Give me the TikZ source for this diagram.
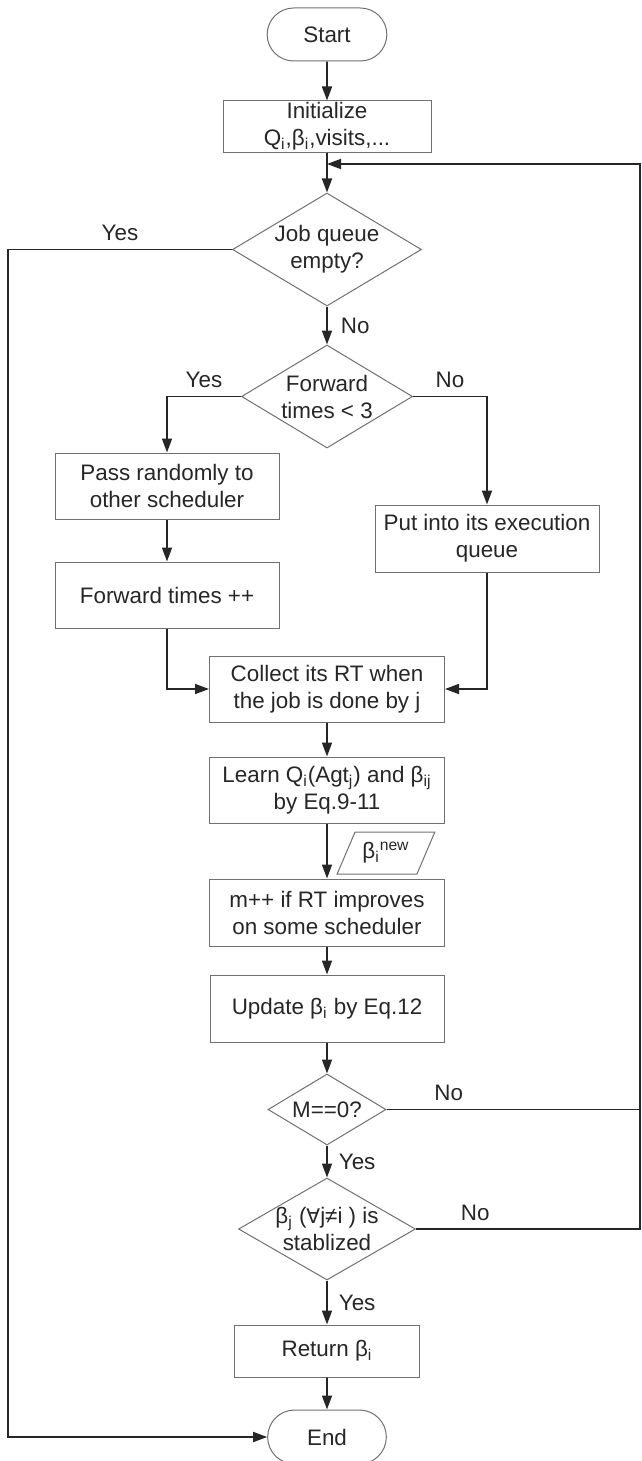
\documentclass[tikz,border=0pt]{standalone}
\usepackage{fontspec}
\setmainfont{Liberation Sans}
\newfontfamily\symfont[Scale=0.9]{DejaVu Sans}
\usetikzlibrary{shapes.geometric,shapes.misc,arrows.meta}
\definecolor{boxline}{HTML}{707070}
\definecolor{flowline}{HTML}{262626}

\begin{document}
\begin{tikzpicture}[font=\fontsize{11.2}{13.5}\selectfont, text=flowline]
    \tikzstyle{terminal} = [rounded rectangle, draw=boxline, line width=0.5pt, minimum width=66.5pt, minimum height=26.5pt]
    \tikzstyle{process} = [rectangle, draw=boxline, line width=0.5pt, align=center, inner sep=0pt]
    \tikzstyle{decision} = [diamond, draw=boxline, line width=0.5pt, align=center, inner sep=0pt, aspect=1.66]
    \tikzstyle{data} = [trapezium, trapezium left angle=63, trapezium right angle=117, trapezium stretches=true, draw=boxline, line width=0.5pt, minimum width=49pt, minimum height=21pt]
    \tikzstyle{arrow} = [draw=flowline, line width=0.85pt, -{Triangle[length=7pt,width=5pt]}]
    \tikzstyle{line} = [draw=flowline, line width=0.85pt]
    \tikzstyle{lbl} = [inner sep=0pt, anchor=base, yshift=4.5pt]
    \tikzstyle{side} = [inner sep=0pt, anchor=west]

    \useasboundingbox (0,0) rectangle (321pt,-730.5pt);

    \node[terminal] (start) at (163.5pt,-17.25pt) {Start};
    \node[process, minimum width=104pt, minimum height=25.5pt, node distance=46pt, below of=start] (init) {Initialize\\Q\textsubscript{i},β\textsubscript{i},visits,...};
    \node[decision, minimum width=94.5pt, minimum height=56.5pt, node distance=61.5pt, below of=init] (job) {Job queue\\empty?};
    \node[decision, minimum width=85.5pt, minimum height=51.5pt, node distance=73.5pt, below of=job] (fwd) {Forward\\times < 3};

    \node[process, minimum width=112pt, minimum height=33pt, node distance=44.75pt, below of=fwd, xshift=-80pt] (pass) {Pass randomly to\\other scheduler};
    \node[process, minimum width=112pt, minimum height=33pt, node distance=54.5pt, below of=pass] (ftimes) {Forward times ++};
    \node[process, minimum width=112pt, minimum height=33.5pt, node distance=71pt, below of=fwd, xshift=80pt] (put) {Put into its execution\\queue};

    \node[process, minimum width=117.5pt, minimum height=33pt, node distance=146.25pt, below of=fwd] (collect) {Collect its RT when\\the job is done by j};
    \node[process, minimum width=117.5pt, minimum height=33pt, node distance=50.5pt, below of=collect] (learn) {Learn Q\textsubscript{i}(Agt\textsubscript{j}) and β\textsubscript{ij}\\by Eq.9-11};
    \node[data, node distance=31.5pt, below of=learn, xshift=29.5pt] (betanew) {β\textsubscript{i}\textsuperscript{new}};
    \node[process, minimum width=117.5pt, minimum height=33.5pt, node distance=61.25pt, below of=learn] (mpp) {m++ if RT improves\\on some scheduler};
    \node[process, minimum width=117pt, minimum height=33.5pt, node distance=48pt, below of=mpp] (update) {Update β\textsubscript{i} by Eq.12};

    \node[decision, minimum width=59pt, minimum height=35.5pt, node distance=50.5pt, below of=update] (mzero) {M==0?};
    \node[decision, minimum width=88.5pt, minimum height=51pt, inner xsep=-5pt, aspect=1.74, node distance=59.75pt, below of=mzero] (stab) {β\textsubscript{j} ({\symfont ∀}j≠i ) is\\stablized};
    \node[process, minimum width=92.5pt, minimum height=26pt, node distance=61pt, below of=stab] (ret) {Return β\textsubscript{i}};
    \node[terminal, minimum width=66pt, minimum height=27pt, node distance=43pt, below of=ret] (end) {End};

    \coordinate (lft) at (4pt,-400pt);
    \coordinate (rgt) at (320pt,-82pt);

    \draw[arrow] (start) -- (init);
    \draw[arrow] (init) -- (job);
    \draw[arrow] (job.west) -- node[lbl]{Yes} (job.west -| lft) |- (end.west);
    \draw[arrow] (job) -- node[side, xshift=6.5pt]{No} (fwd);
    \draw[arrow] (fwd.west) -| node[lbl, pos=0.25]{Yes} (pass.north);
    \draw[arrow] (fwd.east) -| node[lbl, pos=0.25]{No} (put.north);
    \draw[arrow] (pass) -- (ftimes);
    \draw[arrow] (ftimes.south) |- (collect.west);
    \draw[arrow] (put.south) |- (collect.east);
    \draw[arrow] (collect) -- (learn);
    \draw[arrow] (learn) -- (mpp);
    \draw[arrow] (mpp) -- (update);
    \draw[arrow] (update) -- (mzero);
    \draw[arrow] (mzero) -- node[side, xshift=5.5pt]{Yes} (stab);
    \draw[arrow] (stab) -- node[side, xshift=5.5pt]{Yes} (ret);
    \draw[arrow] (ret) -- (end);
    \draw[arrow] (mzero.east) -- node[lbl, anchor=base west, pos=0, xshift=23.5pt]{No} (mzero.east -| rgt) -- (rgt) -- (rgt -| init.south);
    \draw[line] (stab.east) -- node[lbl, anchor=base west, pos=0, xshift=22pt]{No} (stab.east -| rgt) -- (rgt);
\end{tikzpicture}
\end{document}
